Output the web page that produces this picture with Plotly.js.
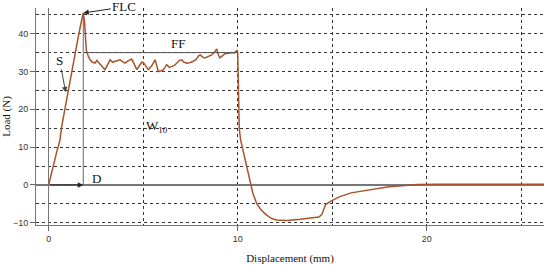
<!DOCTYPE html>
<html>
<head>
<meta charset="utf-8">
<script src="https://cdn.plot.ly/plotly-3.0.1.min.js"></script>
<style>
  html, body { margin: 0; padding: 0; background: #fff; }
  #chart { width: 550px; height: 265px; }
</style>
</head>
<body>
<div id="chart"></div>
<script>
// displacement (mm) and load (N)
const displacement = [
  0, 0.12, 0.24, 0.36, 0.46, 0.52, 0.6, 0.69, 0.8, 0.95, 1.08, 1.22, 1.4, 1.57, 1.72, 1.83,
  1.9, 1.95, 1.99, 2.1, 2.19, 2.3, 2.45, 2.55, 2.72, 2.85, 2.98, 3.1, 3.25, 3.38, 3.51, 3.65,
  3.78, 3.9, 4.04, 4.2, 4.39, 4.52, 4.66, 4.75, 4.83, 4.93, 5.04, 5.15, 5.27, 5.45, 5.63, 5.72,
  5.8, 5.95, 6.07, 6.24, 6.38, 6.51, 6.65, 6.77, 6.9, 7.04, 7.15, 7.3, 7.45, 7.65, 7.8, 7.92,
  8.01, 8.15, 8.27, 8.45, 8.62, 8.75, 8.89, 8.97, 9.06, 9.2, 9.33, 9.5, 9.68, 9.8, 9.95, 10.0,
  10.02, 10.04, 10.08, 10.15, 10.3, 10.48, 10.66, 10.8, 11.0, 11.25, 11.53, 11.8, 12.06, 12.6,
  13.3, 14.0, 14.3, 14.45, 14.55, 14.65, 14.88, 15.4, 16.0, 16.5, 17.3, 18.0, 18.7, 19.5, 20.5,
  22, 24, 26.2,
];
const load = [
  0, 2.5, 5.5, 7.8, 9.4, 10.3, 12.0, 15.5, 18.5, 23.4, 26.8, 30.5, 35.5, 39.3, 43.0, 45.5,
  43, 37, 35.6, 34.0, 33.1, 32.5, 32.2, 32.9, 31.8, 31.2, 30.5, 31.8, 33.1, 32.5, 32.7, 32.9,
  33.1, 32.6, 32.2, 32.8, 33.3, 32.0, 30.5, 31.2, 31.8, 32.5, 32.2, 31.2, 30.5, 31.5, 33.1, 31.5,
  30.0, 30.2, 30.5, 31.8, 31.1, 31.3, 31.6, 32.2, 32.9, 33.1, 32.5, 32.2, 32.3, 32.7, 33.2, 34.1,
  34.4, 33.8, 33.6, 34.0, 34.4, 35.0, 36.0, 34.5, 33.6, 34.2, 34.7, 34.8, 35.0, 34.9, 35.5, 35.0,
  28, 20, 15, 12, 8.5, 4.5, 0.6, -2.2, -4.9, -6.7, -8.0, -8.9, -9.3, -9.4,
  -9.1, -8.8, -8.5, -7.8, -6.3, -5.2, -4.4, -3.1, -2.1, -1.7, -0.9, -0.5, -0.2, 0.1, 0.2,
  0.2, 0.2, 0.2,
];

const plateauLoad = 35;      // FF level
const plateauStart = 1.97;
const plateauEnd = 10;
const sPoint = [0.9, 24.5];
const w10Label = [5.73, 15.4];
const ffLabel = [6.84, 37.4];
const dLabel = [2.55, 1.6];

const peakIndex = load.reduce((best, v, i) => (v > load[best] ? i : best), 0);
const peakX = displacement[peakIndex];
const peakY = load[peakIndex];

const serif = 'Liberation Serif, Times New Roman, serif';
const gridStyle = { showgrid: true, gridcolor: '#333', griddash: 'dot', gridwidth: 1 };

const axisBase = {
  ...gridStyle,
  dtick: 10,
  ticks: 'outside',
  ticklen: 5,
  tickcolor: '#666',
  showline: true,
  linecolor: '#777',
  linewidth: 1,
  zeroline: true,
  zerolinecolor: '#777',
  zerolinewidth: 1.2,
  tickfont: { family: 'Liberation Sans, Arial, sans-serif', size: 9, color: '#333' },
  minor: { dtick: 5, ...gridStyle, ticks: '' },
};

Plotly.newPlot('chart', [{
  type: 'scatter',
  mode: 'lines',
  x: displacement,
  y: load,
  line: { color: '#a8532b', width: 1.5 },
  hoverinfo: 'skip',
}], {
  width: 550,
  height: 265,
  margin: { l: 36, r: 6, t: 8, b: 40 },
  paper_bgcolor: '#fff',
  plot_bgcolor: '#fff',
  showlegend: false,
  xaxis: {
    ...axisBase,
    range: [-0.67, 26.2],
    title: { text: 'Displacement (mm)', font: { family: serif, size: 11, color: '#111' }, standoff: 14 },
  },
  yaxis: {
    ...axisBase,
    range: [-10.6, 46.8],
    title: { text: 'Load (N)', font: { family: serif, size: 11, color: '#111' }, standoff: 6 },
  },
  shapes: [
    { type: 'line', x0: plateauStart, x1: plateauEnd, y0: plateauLoad, y1: plateauLoad,
      line: { color: '#555', width: 1 } },
    { type: 'line', x0: peakX, x1: peakX, y0: 0, y1: peakY,
      line: { color: '#666', width: 1 } },
  ],
  annotations: [
    { x: peakX, y: peakY, text: 'FLC', showarrow: true, ax: 41, ay: -6,
      arrowhead: 2, arrowsize: 1.1, arrowwidth: 1, arrowcolor: '#222',
      font: { family: serif, size: 13, color: '#111' } },
    { x: sPoint[0], y: sPoint[1], text: 'S', showarrow: true, ax: -6, ay: -32,
      arrowhead: 2, arrowsize: 1.1, arrowwidth: 1, arrowcolor: '#444',
      font: { family: serif, size: 13, color: '#111' } },
    { x: peakX, y: 0, axref: 'x', ayref: 'y', ax: 0, ay: 0, text: '', showarrow: true,
      arrowhead: 2, arrowsize: 1.1, arrowwidth: 1, arrowcolor: '#222' },
    { x: dLabel[0], y: dLabel[1], text: 'D', showarrow: false,
      font: { family: serif, size: 13, color: '#111' } },
    { x: ffLabel[0], y: ffLabel[1], text: 'FF', showarrow: false,
      font: { family: serif, size: 13, color: '#111' } },
    { x: w10Label[0], y: w10Label[1], text: 'W<sub>10</sub>', showarrow: false,
      font: { family: serif, size: 13, color: '#111' } },
  ],
}, { staticPlot: true });
</script>
</body>
</html>
